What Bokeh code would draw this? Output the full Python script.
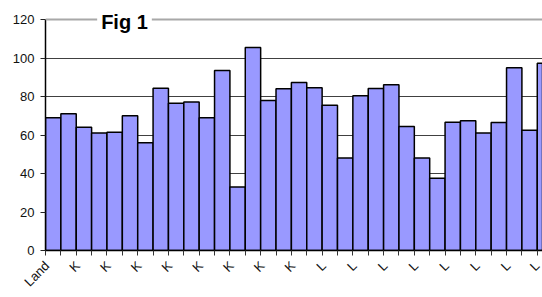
import math
from bokeh.plotting import figure
from bokeh.models import Range1d, FixedTicker, Span, Label
from bokeh.embed import file_html
from bokeh.resources import INLINE

# ---- data ----
values = [69, 71, 64, 61, 61.5, 70, 56, 84.3, 76.5, 77.2,
          69, 93.5, 33, 105.5, 78, 84, 87.3, 84.5, 75.5, 48,
          80.4, 84.2, 86.1, 64.4, 48, 37.6, 66.7, 67.4, 61, 66.5,
          95, 62.5, 97.3]
tick_labels = ["Land", "", "K", "", "K", "", "K", "", "K", "",
               "K", "", "K", "", "K", "", "K", "", "L", "",
               "L", "", "L", "", "L", "", "L", "", "L", "",
               "L", "", "L"]
y_ticks = [0, 20, 40, 60, 80, 100, 120]
title_text = "Fig 1"

xs = list(range(1, len(values) + 1))
label_shift = 0.4  # rotated labels end a little left of the bar centre
label_ticks = [i + 1 - label_shift for i, l in enumerate(tick_labels) if l]
overrides = {i + 1 - label_shift: l for i, l in enumerate(tick_labels) if l}
edges = [i + 0.5 for i in range(len(values) + 1)]

p = figure(width=542, height=297, output_backend="svg", toolbar_location=None,
           x_range=Range1d(0.5, 32.84), y_range=Range1d(0, 124.7),
           min_border_left=45, min_border_top=10, min_border_right=0,
           min_border_bottom=47)
p.background_fill_color = "white"
p.border_fill_color = "white"
p.outline_line_color = None

p.vbar(x=xs, top=values, width=1, fill_color="#9999FF",
       line_color="black", line_width=1.5)

# axes
font = "Liberation Sans"
xa = p.xaxis[0]
xa.ticker = FixedTicker(ticks=label_ticks, minor_ticks=edges)
xa.major_label_overrides = overrides
xa.major_label_orientation = math.pi / 4
xa.major_label_text_font = font
xa.major_label_text_font_size = "13px"
xa.major_label_text_color = "#111111"
xa.major_label_text_line_height = 1.0
xa.major_label_standoff = 8
xa.major_tick_out = 0
xa.major_tick_in = 0
xa.minor_tick_out = 5
xa.minor_tick_in = 0
xa.minor_tick_line_color = "#333333"
xa.axis_line_color = "black"
xa.axis_line_width = 1.5

ya = p.yaxis[0]
ya.ticker = FixedTicker(ticks=y_ticks)
ya.bounds = (y_ticks[0], y_ticks[-1])
ya.major_label_text_font = font
ya.major_label_text_font_size = "13px"
ya.major_label_text_color = "#111111"
ya.major_label_standoff = 6
ya.major_tick_out = 5
ya.major_tick_in = 0
ya.minor_tick_line_color = None
ya.major_tick_line_color = "#222222"
ya.axis_line_color = "black"
ya.axis_line_width = 1.5

p.xgrid.grid_line_color = None
p.ygrid.ticker = FixedTicker(ticks=y_ticks[1:-1])
p.ygrid.grid_line_color = "#404040"
p.ygrid.grid_line_width = 1

p.add_layout(Span(location=y_ticks[-1], dimension="width",
                  line_color="#a8a8a8", line_width=2))
p.add_layout(Label(x=5.64, y=118.5, text=title_text, text_font=font,
                   text_font_style="bold", text_font_size="20px",
                   text_color="black",
                   text_align="center", text_baseline="middle",
                   background_fill_color="white", padding=4))

open("out.html", "w").write(file_html(p, INLINE))
